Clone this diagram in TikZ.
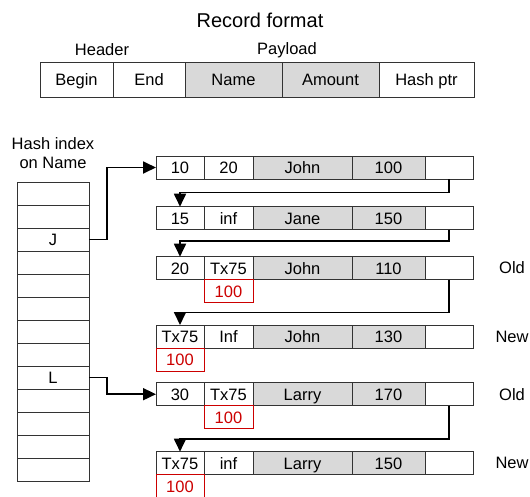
\documentclass[tikz,border=0pt]{standalone}
\usepackage{fontspec}
\setmainfont{Liberation Sans}
\usetikzlibrary{positioning,arrows.meta}

\tikzset{
  cell/.style={draw=black!80, line width=0.8pt, minimum height=23pt, inner sep=0pt,
    outer sep=0pt, anchor=north west, text height=11.8pt, text depth=0pt,
    font=\fontsize{16.5}{17}\selectfont},
  keycell/.style={cell, fill=black!15},
  fmt/.style={minimum height=35pt},
  oldval/.style={cell, draw=red!80!black, text=red!80!black, anchor=north},
  link/.style={line width=1.8pt, -{Triangle[length=13pt,width=12pt]}},
  tag/.style={font=\fontsize{16.5}{19}\selectfont},
}

% one version of a record: name, top, begin, end, key, amount
\newcommand\recrow[6]{%
  \node[cell, minimum width=48pt] (#1-b) at (156,#2) {#3};
  \node[cell, minimum width=49pt, right=0pt of #1-b] (#1-e) {#4};
  \node[keycell, minimum width=99pt, right=0pt of #1-e] (#1-n) {#5};
  \node[keycell, minimum width=73pt, right=0pt of #1-n] (#1-a) {#6};
  \node[cell, minimum width=48pt, right=0pt of #1-a] (#1-p) {};
}

\begin{document}
\begin{tikzpicture}[x=1pt, y=-1pt]
  \useasboundingbox (0,0) rectangle (530,496);

  % record format
  \node[tag, font=\fontsize{20}{22}\selectfont] (title) at (260,20) {Record format};
  \node[tag] (hdr) at (102,50) {Header};
  \node[tag] (pay) at (287,50) {Payload};
  \node[cell, fmt, minimum width=73pt] (f-b) at (40,62) {Begin};
  \node[cell, fmt, minimum width=72pt, right=0pt of f-b] (f-e) {End};
  \node[keycell, fmt, minimum width=97pt, right=0pt of f-e] (f-n) {Name};
  \node[keycell, fmt, minimum width=97pt, right=0pt of f-n] (f-a) {Amount};
  \node[cell, fmt, minimum width=95pt, right=0pt of f-a] (f-p) {Hash ptr};

  % hash index
  \node[tag, align=center] (hidx) at (53,153) {Hash index\\on Name};
  \foreach \i in {1,...,13}
    \node[cell, minimum width=72pt] (h\i) at (17,{182+23*(\i-1)}) {};
  \node[cell, draw=none, anchor=center] (kj) at (h3) {J};
  \node[cell, draw=none, anchor=center] (kl) at (h9) {L};

  % versions
  \recrow{r1}{156}{10}{20}{John}{100}
  \recrow{r2}{206.7}{15}{inf}{Jane}{150}
  \recrow{r3}{256.7}{20}{Tx75}{John}{110}
  \recrow{r4}{325}{Tx75}{Inf}{John}{130}
  \recrow{r5}{382.7}{30}{Tx75}{Larry}{170}
  \recrow{r6}{451.7}{Tx75}{inf}{Larry}{150}

  \node[oldval, minimum width=49pt] (v3) at (r3-e.south) {100};
  \node[oldval, minimum width=48pt] (v4) at (r4-b.south) {100};
  \node[oldval, minimum width=49pt] (v5) at (r5-e.south) {100};
  \node[oldval, minimum width=48pt] (v6) at (r6-b.south) {100};

  \node[tag] (t3) at (512,268) {Old};
  \node[tag] (t4) at (512,337) {New};
  \node[tag] (t5) at (512,395) {Old};
  \node[tag] (t6) at (512,463) {New};

  % pointers
  \draw[link] (h3.east) -- ++(18,0) |- (r1-b.west);
  \draw[link] (h9.east) -- ++(18,0) |- (r5-b.west);
  \draw[link] (r1-p.south) -- ++(0,13.5) -| (r2-b.north);
  \draw[link] (r2-p.south) -- ++(0,11.5) -| (r3-b.north);
  \draw[link] (r3-p.south) -- ++(0,32.7) -| (r4-b.north);
  \draw[link] (r5-p.south) -- ++(0,33) -| (r6-b.north);
\end{tikzpicture}
\end{document}
